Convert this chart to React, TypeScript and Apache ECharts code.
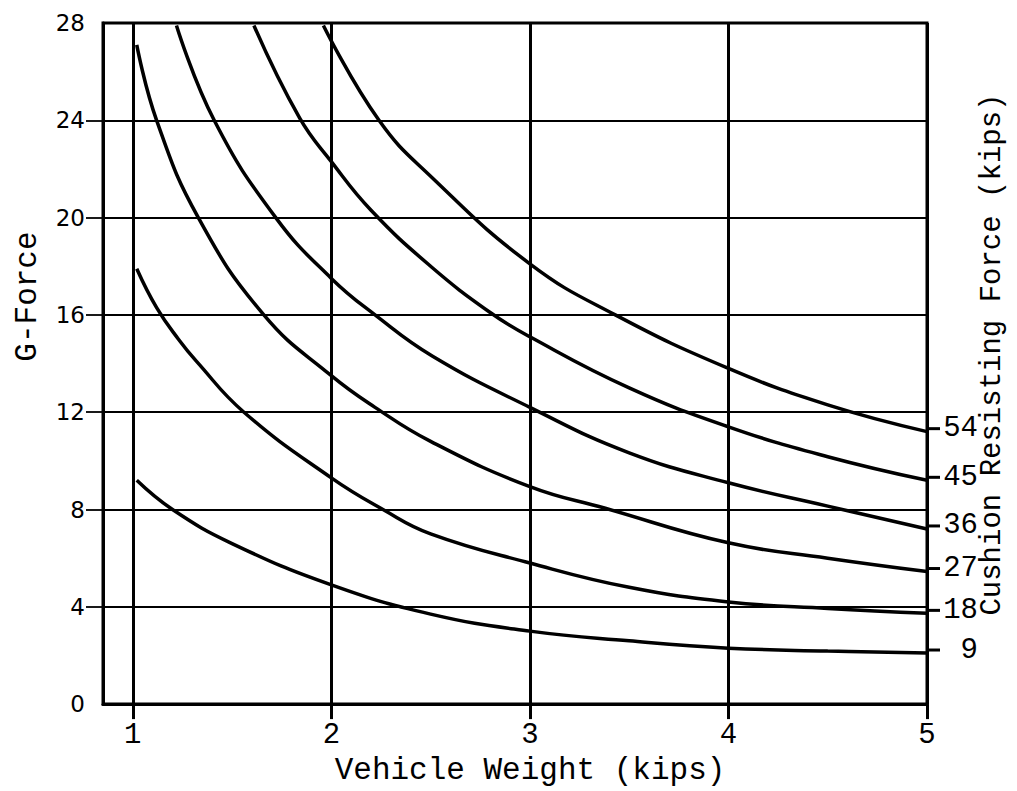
import React, { useEffect, useRef } from "react";
import * as echarts from "echarts";

// Vehicle weight gridlines (kips) and G-force ticks
const weightTicks = [1, 2, 3, 4, 5];
const gForceTicks = [4, 8, 12, 16, 20, 24];

// Cushion resisting force of each curve (kips)
const forces = [9, 18, 27, 36, 45, 54];

// [vehicle weight (kips), G-force] along each curve
const curve9: [number, number][] = [
  [1.02, 9.2], [1.2, 8.0], [1.5, 6.6], [2.0, 4.9], [2.5, 3.7],
  [3.0, 3.0], [3.5, 2.6], [4.0, 2.3], [4.5, 2.18], [5.0, 2.1],
];
const curve18: [number, number][] = [
  [1.02, 17.9], [1.12, 16.3], [1.23, 15.0], [1.32, 14.1], [1.56, 12.0], [2.0, 9.3],
  [2.26, 8.0], [2.5, 7.0], [3.0, 5.8], [3.5, 4.8], [4.0, 4.2], [4.5, 3.93], [5.0, 3.73],
];
const curve27: [number, number][] = [
  [1.02, 27.1], [1.12, 24.0], [1.33, 20.0], [1.66, 16.0], [2.0, 13.5], [2.22, 12.2],
  [2.5, 10.8], [3.0, 8.94], [3.38, 8.05], [4.0, 6.63], [4.5, 6.0], [5.0, 5.45],
];
const curve36: [number, number][] = [
  [1.22, 27.9], [1.41, 24.0], [1.72, 20.0], [2.0, 17.5], [2.22, 16.0], [2.51, 14.3],
  [3.0, 12.2], [3.5, 10.33], [4.0, 9.1], [4.5, 8.14], [5.0, 7.2],
];
const curve45: [number, number][] = [
  [1.61, 27.9], [1.84, 24.1], [2.0, 22.3], [2.2, 20.3], [2.5, 18.0], [2.8, 16.1],
  [3.0, 15.1], [3.5, 13.0], [4.0, 11.4], [4.5, 10.17], [5.0, 9.2],
];
const curve54: [number, number][] = [
  [1.96, 27.9], [2.24, 24.0], [2.5, 21.7], [3.0, 18.1], [3.43, 16.0],
  [4.0, 13.8], [4.5, 12.3], [5.0, 11.2],
];

const curves = [curve9, curve18, curve27, curve36, curve45, curve54];

const mono = "'Liberation Mono', 'DejaVu Sans Mono', monospace";
const ink = "#000";

export default function App() {
  const ref = useRef<HTMLDivElement>(null);

  useEffect(() => {
    if (!ref.current) return;
    const chart = echarts.init(ref.current, null, { renderer: "svg" });

    const series = curves.map((data, i) => ({
      type: "line",
      name: String(forces[i]),
      data,
      smooth: 0.45,
      showSymbol: false,
      symbol: "none",
      clip: false,
      lineStyle: { color: ink, width: 3.5 },
      endLabel: {
        show: true,
        distance: 0,
        offset: [0, -3],
        formatter: "{t| }{n|{a}}",
        rich: {
          t: { width: 13, height: 3, backgroundColor: ink },
          n: { width: 38, align: "right", fontFamily: mono, fontSize: 29, color: ink },
        },
      },
      ...(i === 0
        ? {
            markLine: {
              silent: true,
              symbol: ["none", "none"],
              label: { show: false },
              lineStyle: { type: "solid", color: ink, width: 3 },
              data: weightTicks.map((w) => ({ xAxis: w })),
            },
          }
        : {}),
    }));

    chart.setOption({
      animation: false,
      backgroundColor: "#fff",
      grid: {
        left: 103,
        right: 90,
        top: 23,
        bottom: 79,
        show: true,
        borderColor: ink,
        borderWidth: 3,
        backgroundColor: "transparent",
      },
      xAxis: {
        type: "value",
        min: 0.85,
        max: 5,
        axisLine: { show: true, lineStyle: { color: ink, width: 3 } },
        axisTick: {
          show: true,
          customValues: weightTicks,
          length: 15,
          lineStyle: { color: ink, width: 3 },
        },
        axisLabel: {
          customValues: weightTicks,
          margin: 17,
          fontFamily: mono,
          fontSize: 29,
          color: ink,
        },
        splitLine: { show: false },
        name: "Vehicle Weight (kips)",
        nameLocation: "middle",
        nameGap: 50,
        nameTextStyle: { fontFamily: mono, fontSize: 31, color: ink, padding: [0, 0, 0, 30] },
      },
      yAxis: [
        {
          type: "value",
          min: 0,
          max: 28,
          interval: 4,
          axisLine: { show: true, lineStyle: { color: ink, width: 3 } },
          axisTick: {
            show: true,
            customValues: gForceTicks,
            length: 17,
            lineStyle: { color: ink, width: 1.8 },
          },
          axisLabel: { margin: 18, fontFamily: "'DejaVu Sans', sans-serif", fontSize: 23, color: ink },
          splitLine: { show: true, lineStyle: { color: ink, width: 1.8 } },
          name: "G-Force",
          nameLocation: "middle",
          nameGap: 60,
          nameRotate: 90,
          nameTextStyle: { fontFamily: mono, fontSize: 31, color: ink, padding: [0, 0, 0, 134] },
        },
        {
          type: "value",
          position: "right",
          min: 0,
          max: 28,
          interval: 4,
          axisLine: { show: false },
          axisTick: { show: false },
          axisLabel: { show: false },
          splitLine: { show: false },
          name: "Cushion Resisting Force (kips)",
          nameLocation: "middle",
          nameGap: 51,
          nameRotate: 90,
          nameTextStyle: { fontFamily: mono, fontSize: 29, color: ink, padding: [0, 0, 0, 18] },
        },
      ],
      series,
    });

    return () => chart.dispose();
  }, []);

  return (
    <div
      ref={ref}
      style={{ position: "absolute", left: 0, top: 0, width: 1017, height: 791, background: "#fff" }}
    />
  );
}
